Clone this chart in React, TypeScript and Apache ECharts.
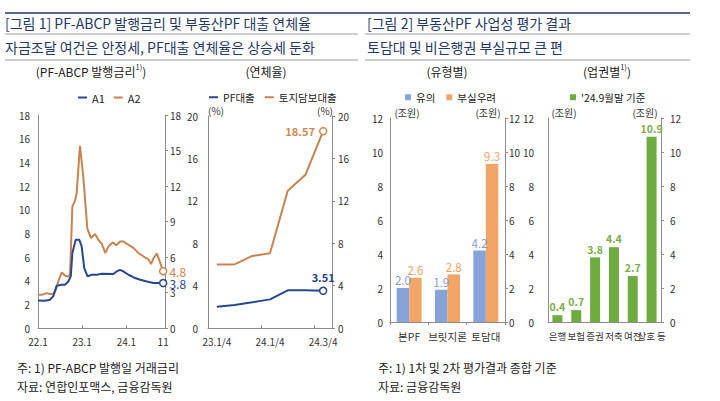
import React, { useEffect, useRef } from 'react';
import * as echarts from 'echarts';

const FONT = "'Noto Sans CJK KR', 'Noto Sans', sans-serif";

// ---- Panel 1-a: PF-ABCP 발행금리 ----
const rateTickDates = ['2022-01-01', '2023-01-01', '2024-01-01', '2024-11-01'];
const rateTickLabels = ['22.1', '23.1', '24.1', '11'];

const a1Dates = ['2022-01-01', '2022-02-28', '2022-04-08', '2022-05-05', '2022-06-03', '2022-07-14', '2022-08-11', '2022-09-08', '2022-09-28', '2022-10-11', '2022-11-08', '2022-12-08', '2022-12-27', '2023-01-18', '2023-02-15', '2023-03-18', '2023-05-01', '2023-06-12', '2023-09-15', '2023-10-12', '2023-11-09', '2023-12-06', '2024-01-18', '2024-03-01', '2024-04-24', '2024-06-18', '2024-08-13', '2024-11-01'];
const a1Values = [2.33, 2.3, 2.39, 2.67, 3.57, 3.65, 3.65, 3.93, 4.36, 6.33, 7.45, 7.45, 6.89, 5.06, 4.36, 4.5, 4.5, 4.58, 4.56, 4.78, 4.92, 4.78, 4.5, 4.27, 4.08, 3.93, 3.8, 3.8];

const a2Dates = ['2022-01-01', '2022-02-01', '2022-03-13', '2022-04-10', '2022-05-06', '2022-05-25', '2022-06-16', '2022-07-15', '2022-08-12', '2022-09-09', '2022-09-22', '2022-10-11', '2022-11-04', '2022-11-16', '2022-12-13', '2023-01-10', '2023-02-13', '2023-03-13', '2023-04-16', '2023-05-13', '2023-06-12', '2023-07-09', '2023-08-06', '2023-09-10', '2023-10-09', '2023-11-10', '2023-12-07', '2024-01-19', '2024-03-01', '2024-04-10', '2024-05-22', '2024-07-01', '2024-07-22', '2024-08-13', '2024-09-10', '2024-10-07', '2024-11-01'];
const a2Values = [2.8, 2.8, 2.95, 2.87, 2.9, 3.2, 3.93, 4.7, 4.41, 4.36, 4.5, 10.26, 10.8, 11.4, 15.4, 12.8, 8.4, 7.6, 7.95, 7.45, 7.1, 6.33, 6.9, 7.22, 7.0, 7.31, 7.31, 7.03, 6.75, 6.33, 6.04, 5.8, 5.4, 5.9, 6.3, 5.5, 4.8];

// ---- Panel 1-b: 연체율 ----
const delinqQuarters = ['23.1/4', '23.2/4', '23.3/4', '23.4/4', '24.1/4', '24.2/4', '24.3/4'];
const delinqTickLabels = ['23.1/4', '', '', '24.1/4', '', '', '24.3/4'];
const pfLoanRate = [2.01, 2.17, 2.42, 2.7, 3.55, 3.56, 3.51];
const landLoanRate = [6.0, 6.0, 6.8, 7.05, 12.95, 14.45, 18.57];

// ---- Panel 2-a: 유형별 ----
const typeCategories = ['본PF', '브릿지론', '토담대'];
const cautionValues = [2.0, 1.9, 4.2];
const riskValues = [2.6, 2.8, 9.3];

// ---- Panel 2-b: 업권별 ----
const sectorCategories = ['은행', '보험', '증권', '저축', '여전', '상호 등'];
const sectorValues = [0.4, 0.7, 3.8, 4.4, 2.7, 10.9];

const BLUE = '#27488f';
const ORANGE = '#c8834e';
const BAR_BLUE = '#87a4da';
const BAR_ORANGE = '#f2a567';
const GREEN = '#6eab41';
const NAVY = '#1f3864';
const AXIS = '#8c8c8c';
const LABEL = '#333333';

// months elapsed since 2022-01-01 (fractional)
const toMonth = (s: string) => {
  const [y, m, d] = s.split('-').map(Number);
  return (y - 2022) * 12 + (m - 1) + (d - 1) / 30;
};

const endLine = (dates: string[], vals: number[], color: string) =>
  dates.map((d, i) => {
    if (i < dates.length - 1) return [toMonth(d), vals[i]];
    return {
      value: [toMonth(d), vals[i]],
      symbol: 'circle',
      symbolSize: 7,
      itemStyle: { color: '#ffffff', borderColor: color, borderWidth: 1.5 },
      label: {
        show: true,
        position: 'right',
        distance: 2,
        color,
        fontSize: 12,
        fontFamily: FONT,
        formatter: () => vals[i].toFixed(1),
      },
    };
  });

const endCat = (vals: number[], color: string, pos: string) =>
  vals.map((v, i) => {
    if (i < vals.length - 1) return v;
    return {
      value: v,
      symbol: 'circle',
      symbolSize: 7,
      itemStyle: { color: '#ffffff', borderColor: color, borderWidth: 1.5 },
      label: {
        show: true,
        position: pos,
        distance: 4,
        color,
        fontSize: 11,
        fontWeight: 'bold',
        fontFamily: FONT,
        formatter: () => v.toFixed(2),
      },
    };
  });

const yAx = (grid: number, pos: 'left' | 'right', max: number, interval: number, margin: number, ticks: boolean) => ({
  type: 'value',
  gridIndex: grid,
  position: pos,
  min: 0,
  max,
  interval,
  axisLine: { show: true, lineStyle: { color: AXIS, width: 1 } },
  axisTick: { show: ticks, length: 3, lineStyle: { color: AXIS } },
  splitLine: { show: false },
  axisLabel: { color: LABEL, fontSize: 10, fontFamily: FONT, margin },
});

const txt = (x: number, y: number, text: string, size: number, fill: string, align = 'left', extra: any = {}) => ({
  type: 'text',
  x,
  y,
  silent: true,
  style: { text, fill, fontSize: size, fontFamily: FONT, align, verticalAlign: 'middle', ...extra },
});

const hline = (x1: number, x2: number, y: number, color: string, width: number) => ({
  type: 'line',
  silent: true,
  shape: { x1, y1: y, x2, y2: y },
  style: { stroke: color, lineWidth: width },
});

export default function App() {
  const ref = useRef<HTMLDivElement>(null);

  useEffect(() => {
    if (!ref.current) return;
    const chart = echarts.init(ref.current, undefined, { renderer: 'svg' });
    const rateTicks = rateTickDates.map(toMonth);
    const supRich = {
      n: { fontSize: 12, fontFamily: FONT, fill: '#1a1a1a', lineHeight: 16 },
      s: { fontSize: 7.5, fontFamily: FONT, fill: '#1a1a1a', lineHeight: 9, verticalAlign: 'top' },
    };
    const legText = { fontSize: 10.5, color: '#222', fontFamily: FONT };

    const option: any = {
      animation: false,
      textStyle: { fontFamily: FONT },
      grid: [
        { left: 38, top: 115, width: 127, height: 213 },
        { left: 208, top: 116, width: 124, height: 212 },
        { left: 390, top: 118, width: 115, height: 204 },
        { left: 548, top: 118, width: 113, height: 204 },
      ],
      legend: [
        {
          data: ['A1', 'A2'], left: 73, top: 87, icon: 'rect', itemWidth: 9, itemHeight: 2, itemGap: 9,
          textStyle: { ...legText, fontSize: 11 },
        },
        {
          data: ['PF대출', '토지담보대출'], left: 204, top: 87, icon: 'rect', itemWidth: 9, itemHeight: 2, itemGap: 10,
          textStyle: legText,
        },
        {
          data: ['유의', '부실우려'], left: 400, top: 87, icon: 'rect', itemWidth: 6, itemHeight: 6, itemGap: 11,
          textStyle: legText,
        },
        {
          data: ["'24.9월말 기준"], left: 565, top: 87, icon: 'rect', itemWidth: 6, itemHeight: 6,
          textStyle: legText,
        },
      ],
      xAxis: [
        {
          type: 'value',
          gridIndex: 0,
          min: 0,
          max: 34.5,
          axisLine: { show: true, onZero: false, lineStyle: { color: AXIS } },
          splitLine: { show: false },
          axisTick: { show: true, inside: true, length: 3, customValues: [rateTicks[1], rateTicks[2]], lineStyle: { color: AXIS } },
          axisLabel: {
            color: LABEL, fontSize: 10, fontFamily: FONT, margin: 8,
            customValues: rateTicks,
            showMinLabel: true, showMaxLabel: true,
            formatter: (v: number) => {
              const i = rateTicks.findIndex((t) => Math.abs(t - v) < 0.01);
              return i >= 0 ? rateTickLabels[i] : '';
            },
          },
        },
        {
          type: 'category',
          gridIndex: 1,
          data: delinqQuarters,
          boundaryGap: true,
          axisLine: { show: true, lineStyle: { color: AXIS } },
          axisTick: { show: true, inside: true, length: 3, interval: 2, lineStyle: { color: AXIS } },
          axisLabel: {
            color: LABEL, fontSize: 10, fontFamily: FONT, margin: 8, interval: 0,
            formatter: (_v: string, i: number) => delinqTickLabels[i],
          },
        },
        {
          type: 'category',
          gridIndex: 2,
          data: typeCategories,
          axisLine: { show: true, lineStyle: { color: AXIS } },
          axisTick: { show: true, length: 3, lineStyle: { color: AXIS } },
          axisLabel: { color: LABEL, fontSize: 10.5, fontFamily: FONT, margin: 9, interval: 0 },
        },
        {
          type: 'category',
          gridIndex: 3,
          data: sectorCategories,
          axisLine: { show: true, lineStyle: { color: AXIS } },
          axisTick: { show: false },
          axisLabel: { color: LABEL, fontSize: 9.5, fontFamily: FONT, margin: 9, interval: 0 },
        },
      ],
      yAxis: [
        yAx(0, 'left', 18, 2, 8, false),
        yAx(0, 'right', 18, 3, 5, true),
        yAx(1, 'left', 20, 4, 10, false),
        yAx(1, 'right', 20, 4, 6, true),
        yAx(2, 'left', 12, 2, 7, false),
        yAx(2, 'right', 12, 2, 4, true),
        yAx(3, 'left', 12, 2, 14, false),
        yAx(3, 'right', 12, 2, 9, true),
      ],
      series: [
        {
          name: 'A1', type: 'line', xAxisIndex: 0, yAxisIndex: 0, symbol: 'none', showSymbol: true, showAllSymbol: true,
          color: BLUE, lineStyle: { color: BLUE, width: 2 }, data: endLine(a1Dates, a1Values, BLUE), z: 3,
        },
        {
          name: 'A2', type: 'line', xAxisIndex: 0, yAxisIndex: 0, symbol: 'none', showSymbol: true, showAllSymbol: true,
          color: ORANGE, lineStyle: { color: ORANGE, width: 2 }, data: endLine(a2Dates, a2Values, ORANGE), z: 2,
        },
        {
          name: 'PF대출', type: 'line', xAxisIndex: 1, yAxisIndex: 2, symbol: 'none', showSymbol: true, showAllSymbol: true,
          color: BLUE, lineStyle: { color: BLUE, width: 2 }, data: endCat(pfLoanRate, BLUE, 'top'),
        },
        {
          name: '토지담보대출', type: 'line', xAxisIndex: 1, yAxisIndex: 2, symbol: 'none', showSymbol: true, showAllSymbol: true,
          color: ORANGE, lineStyle: { color: ORANGE, width: 2 }, data: endCat(landLoanRate, '#d4894f', 'left'),
        },
        {
          name: '유의', type: 'bar', xAxisIndex: 2, yAxisIndex: 4, barWidth: 12.5, barGap: '0%',
          itemStyle: { color: BAR_BLUE }, color: BAR_BLUE,
          label: { show: true, position: 'top', distance: 2, color: '#7f9dd6', fontSize: 11.5, fontFamily: FONT, formatter: (p: any) => Number(p.value).toFixed(1) },
          data: cautionValues,
        },
        {
          name: '부실우려', type: 'bar', xAxisIndex: 2, yAxisIndex: 4, barWidth: 12.5, barGap: '0%',
          itemStyle: { color: BAR_ORANGE }, color: BAR_ORANGE,
          label: { show: true, position: 'top', distance: 2, color: '#eea062', fontSize: 11.5, fontFamily: FONT, formatter: (p: any) => Number(p.value).toFixed(1) },
          data: riskValues,
        },
        {
          name: "'24.9월말 기준", type: 'bar', xAxisIndex: 3, yAxisIndex: 6, barWidth: 10,
          itemStyle: { color: GREEN }, color: GREEN,
          label: { show: true, position: 'top', distance: 3, color: '#79ae4a', fontSize: 10.5, fontWeight: 'bold', fontFamily: FONT, formatter: (p: any) => Number(p.value).toFixed(1) },
          data: sectorValues,
        },
      ],
      graphic: [
        hline(5, 690, 13, NAVY, 1.5),
        hline(5, 358, 34, '#9a9a9a', 1),
        hline(365, 690, 34, '#9a9a9a', 1),
        hline(5, 358, 60, '#9a9a9a', 1),
        hline(365, 690, 60, '#9a9a9a', 1),
        txt(5, 23, '[그림 1] PF-ABCP 발행금리 및 부동산PF 대출 연체율', 14, NAVY),
        txt(5, 47, '자금조달 여건은 안정세, PF대출 연체율은 상승세 둔화', 14, NAVY),
        txt(367, 23, '[그림 2] 부동산PF 사업성 평가 결과', 14, NAVY),
        txt(367, 47, '토담대 및 비은행권 부실규모 큰 편', 14, NAVY),
        {
          type: 'text', x: 91, y: 71, silent: true,
          style: { text: '{n|(PF-ABCP 발행금리}{s|1)}{n|)}', rich: supRich, align: 'center', verticalAlign: 'middle' },
        },
        txt(266, 71, '(연체율)', 12, '#1a1a1a', 'center'),
        txt(447, 71, '(유형별)', 12, '#1a1a1a', 'center'),
        {
          type: 'text', x: 607, y: 71, silent: true,
          style: { text: '{n|(업권별}{s|1)}{n|)}', rich: supRich, align: 'center', verticalAlign: 'middle' },
        },
        txt(216, 110, '(%)', 10, LABEL, 'center'),
        txt(325, 110, '(%)', 10, LABEL, 'center'),
        txt(407, 112, '(조원)', 10, LABEL, 'center'),
        txt(488, 112, '(조원)', 10, LABEL, 'center'),
        txt(564, 112, '(조원)', 10, LABEL, 'center'),
        txt(645, 112, '(조원)', 10, LABEL, 'center'),
        txt(17, 367, '주: 1) PF-ABCP 발행일 거래금리', 12, '#222'),
        txt(17, 386, '자료: 연합인포맥스, 금융감독원', 12, '#222'),
        txt(378, 367, '주: 1) 1차 및 2차 평가결과 종합 기준', 12, '#222'),
        txt(378, 386, '자료: 금융감독원', 12, '#222'),
      ],
    };

    chart.setOption(option);
    return () => chart.dispose();
  }, []);

  return (
    <div
      ref={ref}
      style={{ position: 'absolute', left: 0, top: 0, width: 720, height: 401, background: '#ffffff' }}
    />
  );
}
